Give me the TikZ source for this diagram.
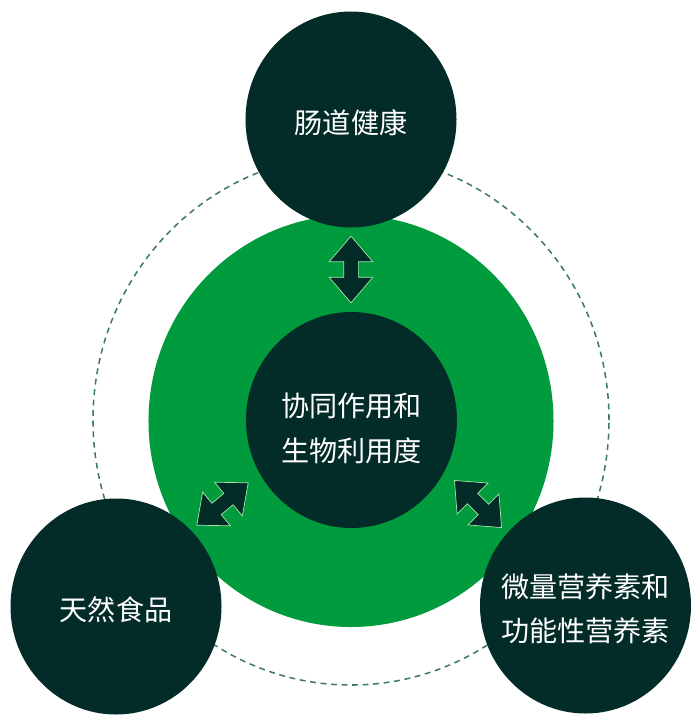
\documentclass[tikz,border=0pt]{standalone}
\usepackage{fontspec}
\setmainfont{Noto Sans CJK SC}
\usetikzlibrary{shapes.geometric, shapes.arrows}
\definecolor{deep}{RGB}{3,44,41}
\definecolor{leaf}{RGB}{0,155,60}
\definecolor{dashc}{RGB}{62,122,96}
\definecolor{rim}{RGB}{165,230,170}
\tikzset{
  hub/.style = {
    ellipse, fill=deep,
    minimum width=6.33cm, minimum height=6.48cm,
    inner sep=0pt, outer sep=0pt
  },
  txt/.style = {
    text=white, font=\fontsize{24}{38}\selectfont, align=center,
    inner sep=0pt, yshift=-3pt
  },
  dblarr/.style = {
    double arrow, fill=deep, draw=rim, line width=0.6pt,
    minimum height=2.0cm, inner sep=0.21cm,
    double arrow head extend=0.435cm, double arrow tip angle=81
  },
  orbit/.style = {dashc, line width=1.3pt, dash pattern=on 5pt off 4pt}
}

\begin{document}
\begin{tikzpicture}[x=0.03cm, y=-0.03cm]
  \useasboundingbox (0,0) rectangle (700,725);

  %% Dashed orbit
  \draw[orbit] (351,420) ellipse [x radius=7.74cm, y radius=7.95cm];

  %% Green disc
  \fill[leaf] (351,421) ellipse [x radius=6.075cm, y radius=6.18cm];

  %% Circles
  \node[hub, label={[txt, yshift=-4pt]center:协同作用和\\生物利用度}]
    (core) at (351.5,420) {};
  \node[hub, label={[txt]center:肠道健康}] (gut) at (351,119.5) {};
  \node[hub, label={[txt]center:天然食品}] (food) at (116,606.5) {};
  \node[hub, label={[txt]center:微量营养素和\\功能性营养素}]
    (nutr) at (585.5,605.5) {};

  %% Double arrows
  \node[dblarr, rotate=90]   (a1) at (351,269.5) {};
  \node[dblarr, rotate=39.5] (a2) at (222.5,504) {};
  \node[dblarr, rotate=-45]  (a3) at (478,504) {};

\end{tikzpicture}
\end{document}
